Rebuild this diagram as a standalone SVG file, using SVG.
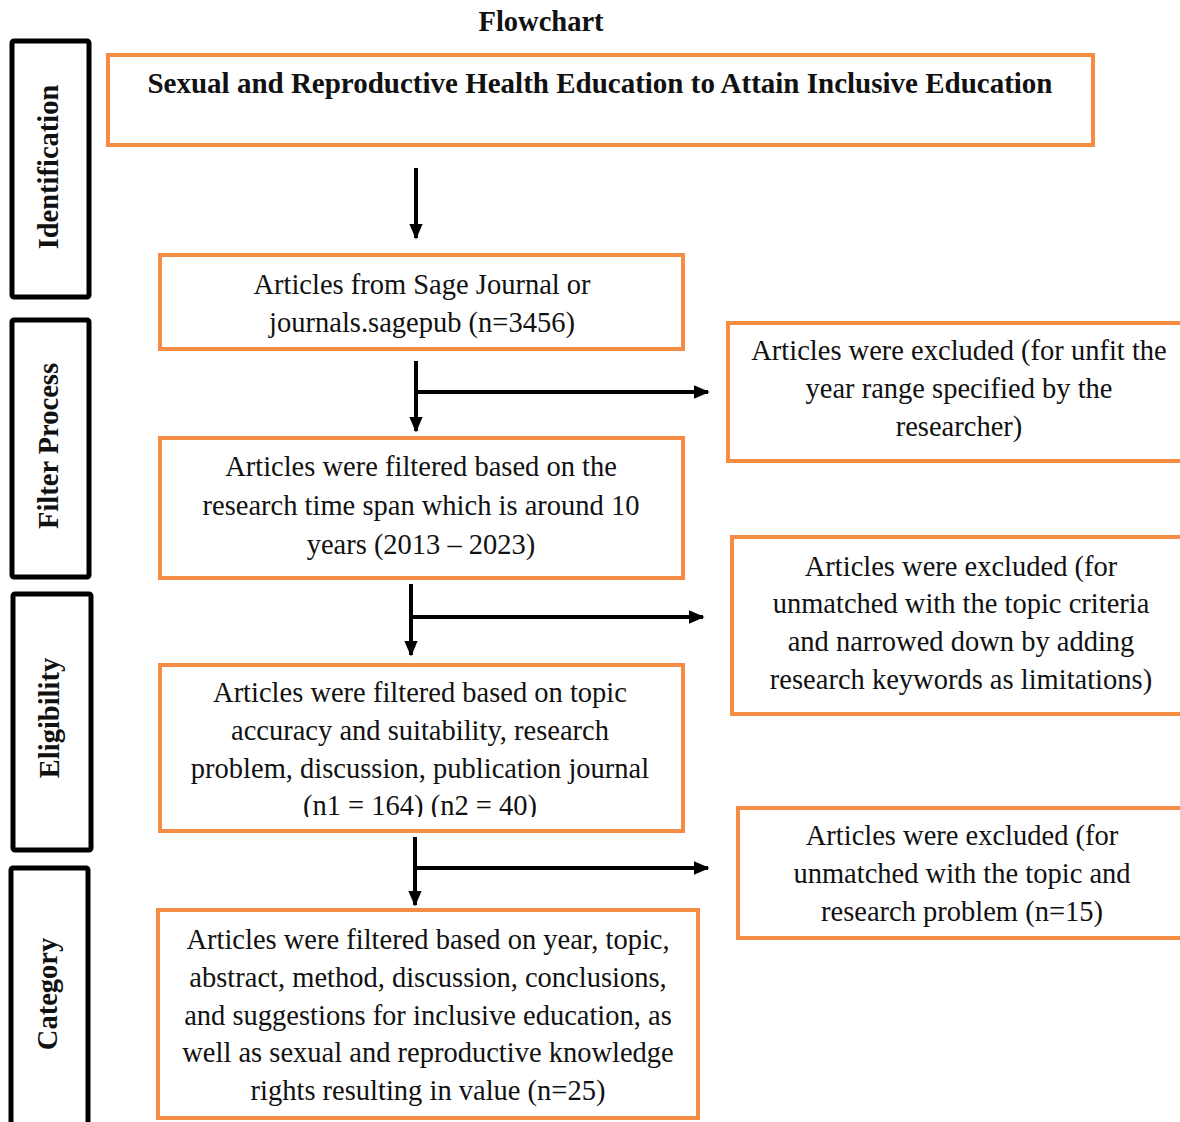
<svg xmlns="http://www.w3.org/2000/svg" width="1180" height="1122" viewBox="0 0 1180 1122">
<defs>
<style>
.t{font-family:"Liberation Serif","Times New Roman",serif;font-size:28.5px;fill:#111;text-anchor:middle}
.b{font-weight:bold}
.tt{font-size:29px}
.box{fill:#fff;stroke:#F78C44;stroke-width:4}
.side{fill:#fff;stroke:#000;stroke-width:5}
.ln{stroke:#000;stroke-width:4;fill:none}
</style>
<marker id="ah" markerWidth="4" markerHeight="4" refX="3.6" refY="2" orient="auto" markerUnits="strokeWidth">
<path d="M0,0.3 L4,2 L0,3.7 Z" fill="#000"/>
</marker>
<clipPath id="c4"><rect x="160" y="665" width="523" height="152"/></clipPath>
</defs>
<rect width="1180" height="1122" fill="#fff"/>
<text class="t b" x="541" y="31">Flowchart</text>

<g id="side-identification">
<rect class="side" x="12" y="41" width="77" height="256" rx="2"/>
<text class="t b" transform="translate(58,167) rotate(-90)">Identification</text>
</g>
<g id="side-filter">
<rect class="side" x="12" y="320" width="77" height="257" rx="2"/>
<text class="t b" transform="translate(58,446) rotate(-90)">Filter Process</text>
</g>
<g id="side-eligibility">
<rect class="side" x="13" y="594" width="78" height="256" rx="2"/>
<text class="t b" transform="translate(59,718) rotate(-90)">Eligibility</text>
</g>
<g id="side-category">
<rect class="side" x="11" y="868" width="77" height="270" rx="2"/>
<text class="t b" transform="translate(57,994) rotate(-90)">Category</text>
</g>

<g id="n-title">
<rect class="box" x="108" y="55" width="985" height="90"/>
<text class="t b tt" x="600" y="93">Sexual and Reproductive Health Education to Attain Inclusive Education</text>
</g>
<g id="n-sage">
<rect class="box" x="160" y="255" width="523" height="94"/>
<text class="t" x="422" y="294">Articles from Sage Journal or</text>
<text class="t" x="422" y="332">journals.sagepub (n=3456)</text>
</g>
<g id="n-excl1">
<rect class="box" x="728" y="323" width="460" height="138"/>
<text class="t" x="959" y="360">Articles were excluded (for unfit the</text>
<text class="t" x="959" y="398">year range specified by the</text>
<text class="t" x="959" y="436">researcher)</text>
</g>
<g id="n-timespan">
<rect class="box" x="160" y="438" width="523" height="140"/>
<text class="t" x="421" y="476">Articles were filtered based on the</text>
<text class="t" x="421" y="515">research time span which is around 10</text>
<text class="t" x="421" y="554">years (2013 – 2023)</text>
</g>
<g id="n-excl2">
<rect class="box" x="732" y="537" width="456" height="177"/>
<text class="t" x="961" y="576">Articles were excluded (for</text>
<text class="t" x="961" y="613">unmatched with the topic criteria</text>
<text class="t" x="961" y="651">and narrowed down by adding</text>
<text class="t" x="961" y="689">research keywords as limitations)</text>
</g>
<g id="n-topic">
<rect class="box" x="160" y="665" width="523" height="166"/>
<g clip-path="url(#c4)">
<text class="t" x="420" y="702">Articles were filtered based on topic</text>
<text class="t" x="420" y="740">accuracy and suitability, research</text>
<text class="t" x="420" y="778">problem, discussion, publication journal</text>
<text class="t" x="420" y="815">(n1 = 164) (n2 = 40)</text>
</g>
</g>
<g id="n-excl3">
<rect class="box" x="738" y="808" width="450" height="130"/>
<text class="t" x="962" y="845">Articles were excluded (for</text>
<text class="t" x="962" y="883">unmatched with the topic and</text>
<text class="t" x="962" y="921">research problem (n=15)</text>
</g>
<g id="n-final">
<rect class="box" x="158" y="910" width="540" height="208"/>
<text class="t" x="428" y="949">Articles were filtered based on year, topic,</text>
<text class="t" x="428" y="987">abstract, method, discussion, conclusions,</text>
<text class="t" x="428" y="1025">and suggestions for inclusive education, as</text>
<text class="t" x="428" y="1062">well as sexual and reproductive knowledge</text>
<text class="t" x="428" y="1100">rights resulting in value (n=25)</text>
</g>

<g id="connectors">
<line class="ln" x1="416" y1="168" x2="416" y2="238" marker-end="url(#ah)"/>
<line class="ln" x1="416" y1="361" x2="416" y2="431" marker-end="url(#ah)"/>
<line class="ln" x1="414" y1="392" x2="708" y2="392" marker-end="url(#ah)"/>
<line class="ln" x1="411" y1="584" x2="411" y2="655" marker-end="url(#ah)"/>
<line class="ln" x1="409" y1="617" x2="703" y2="617" marker-end="url(#ah)"/>
<line class="ln" x1="415" y1="837" x2="415" y2="905" marker-end="url(#ah)"/>
<line class="ln" x1="413" y1="868" x2="708" y2="868" marker-end="url(#ah)"/>
</g>
</svg>
